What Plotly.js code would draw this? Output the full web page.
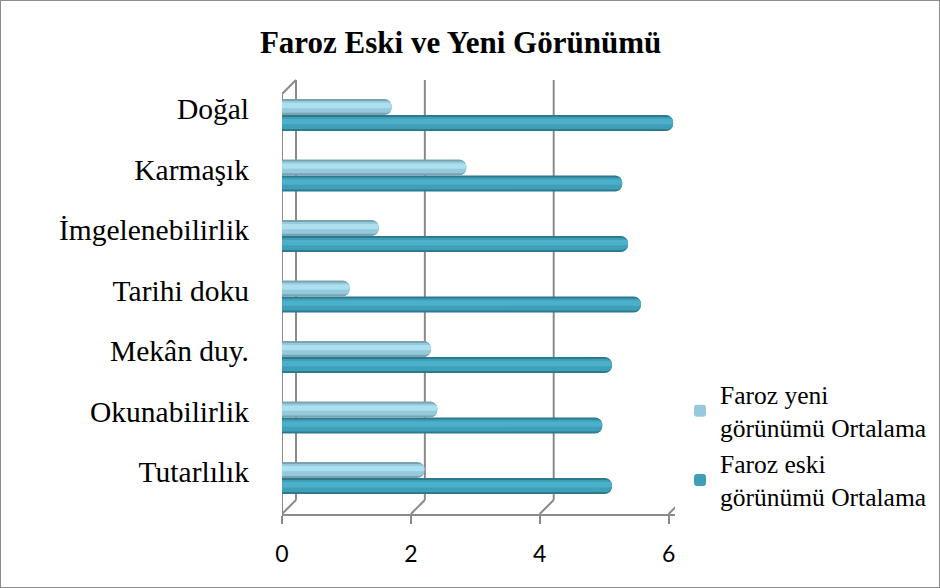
<!DOCTYPE html>
<html>
<head>
<meta charset="utf-8">
<script src="https://cdn.plot.ly/plotly-3.0.1.min.js"></script>
<style>
  html, body { margin: 0; padding: 0; background: #fff; }
  #wrap { position: relative; width: 940px; height: 588px; }
  #chart { width: 940px; height: 588px; }
  #frame { position: absolute; left: 0; top: 0; width: 940px; height: 588px; box-sizing: border-box; border: 1px solid #8c8c8c; pointer-events: none; }
</style>
</head>
<body>
<div id="wrap"><div id="chart"></div><div id="frame"></div></div>
<script>
// ---- data (bottom to top, as Plotly draws categories) ----
const categories = ["Tutarlılık", "Okunabilirlik", "Mekân duy.", "Tarihi doku", "İmgelenebilirlik", "Karmaşık", "Doğal"];
const yeniValues = [2.21, 2.41, 2.31, 1.05, 1.50, 2.86, 1.70];
const eskiValues = [5.12, 4.97, 5.12, 5.57, 5.37, 5.28, 6.07];
const yeniName = "Faroz yeni<br>görünümü Ortalama";
const eskiName = "Faroz eski<br>görünümü Ortalama";
const xTicks = [0, 2, 4, 6];

// ---- geometry helpers ----
const W = 940, H = 588;
const mL = 282, mR = 265, mT = 80, mB = 74;
const plotW = W - mL - mR, plotH = H - mT - mB;
const xMax = 6.1;
const depthPx = 14;
const dx = depthPx / plotW * xMax;      // depth offset in x units
const dy = depthPx / plotH;             // depth offset in paper units
const bw = 0.265;                       // bar thickness (category units)

function layers(vals, baseOffset, cols, legendName) {
  const t = [];
  const spec = [
    [0, bw, cols[0]],
    [0.035, bw - 0.07, cols[1]],
    [0.11, 0.09, cols[2]]
  ];
  spec.forEach((s, i) => {
    t.push({
      type: "bar", orientation: "h",
      x: vals, y: categories,
      offset: baseOffset + s[0], width: s[1],
      marker: { color: s[2], cornerradius: i === 0 ? 7 : 5, line: { width: 0 } },
      name: legendName,
      showlegend: i === 1,
      legendrank: legendName === yeniName ? 1 : 2,
      hoverinfo: "skip"
    });
  });
  return t;
}

const data = [].concat(
  layers(eskiValues, -bw, ["#2c7a8e", "#3f9fb9", "#4cb0ca"], eskiName),
  layers(yeniValues, 0.0, ["#7aa3b2", "#95c9dc", "#ace0ef"], yeniName)
);

// ---- 3D-like walls: floor/back grid lines ----
const gridColor = "#8a8a8a";
const shapes = [];
xTicks.forEach(v => {
  shapes.push({ type: "line", xref: "x", yref: "paper", x0: v, y0: 0, x1: v + dx, y1: dy, line: { color: gridColor, width: 2 }, layer: "below" });
  shapes.push({ type: "line", xref: "x", yref: "paper", x0: v + dx, y0: dy, x1: v + dx, y1: 1, line: { color: gridColor, width: 2 }, layer: "below" });
});
shapes.push({ type: "line", xref: "x", yref: "paper", x0: 0, y0: 0, x1: 0, y1: 1 - dy, line: { color: gridColor, width: 2 }, layer: "below" });
shapes.push({ type: "line", xref: "x", yref: "paper", x0: 0, y0: 1 - dy, x1: dx, y1: 1, line: { color: gridColor, width: 2 }, layer: "below" });

const layout = {
  width: W, height: H,
  margin: { l: mL, r: mR, t: mT, b: mB, autoexpand: false },
  paper_bgcolor: "#ffffff", plot_bgcolor: "rgba(0,0,0,0)",
  barmode: "overlay",
  title: {
    text: "<b>Faroz Eski ve Yeni Görünümü</b>",
    font: { family: "Liberation Serif, Times New Roman, serif", size: 31, color: "#000" },
    x: 0.49, xanchor: "center", y: 1 - 42 / H, yanchor: "middle"
  },
  xaxis: {
    range: [0, xMax], tickvals: xTicks, ticktext: xTicks.map(String),
    showgrid: false, zeroline: false,
    showline: true, linecolor: gridColor, linewidth: 2,
    ticks: "outside", ticklen: 8, tickwidth: 2, tickcolor: gridColor,
    tickfont: { family: "Lato, Open Sans, sans-serif", size: 23, color: "#000" },
    ticklabelstandoff: 10,
    automargin: false,
    fixedrange: true
  },
  yaxis: {
    type: "category", categoryorder: "array", categoryarray: categories,
    range: [-0.595, 6.578],
    showgrid: false, zeroline: false, showline: false, ticks: "",
    tickfont: { family: "Liberation Serif, Times New Roman, serif", size: 29.5, color: "#000" },
    ticklabelstandoff: 32, ticklabelshift: -6,
    automargin: false,
    fixedrange: true
  },
  shapes: shapes,
  showlegend: true,
  legend: {
    x: (680 - mL) / plotW, xanchor: "left",
    y: (514 - 371) / plotH, yanchor: "top",
    font: { family: "Liberation Serif, Times New Roman, serif", size: 25.5, color: "#000" },
    bgcolor: "rgba(0,0,0,0)", borderwidth: 0,
    itemwidth: 30, tracegroupgap: 0
  }
};

Plotly.newPlot("chart", data, layout, { displayModeBar: false, staticPlot: true });
</script>
</body>
</html>
